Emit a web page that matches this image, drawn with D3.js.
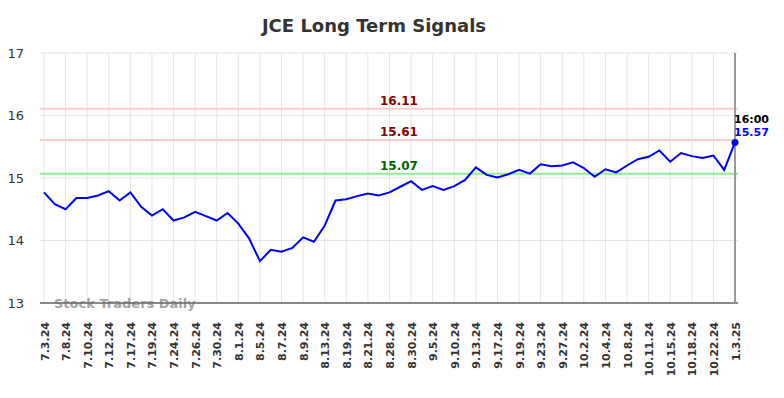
<!DOCTYPE html>
<html><head><meta charset="utf-8">
<script src="https://cdn.jsdelivr.net/npm/d3@7"></script>
<style>
html,body{margin:0;padding:0;background:#fff;}
svg{display:block;font-family:"DejaVu Sans",sans-serif;}
</style></head>
<body><svg id="c" width="784" height="398"></svg>
<script>
const title = "JCE Long Term Signals";
const tickLabels = ["7.3.24","7.8.24","7.10.24","7.12.24","7.17.24","7.19.24","7.24.24","7.26.24","7.30.24","8.1.24","8.5.24","8.7.24","8.9.24","8.13.24","8.19.24","8.21.24","8.28.24","8.30.24","9.5.24","9.10.24","9.13.24","9.17.24","9.19.24","9.23.24","9.27.24","10.2.24","10.4.24","10.8.24","10.11.24","10.15.24","10.18.24","10.22.24","1.3.25"];
const prices = [14.77,14.58,14.50,14.68,14.68,14.72,14.79,14.64,14.77,14.54,14.40,14.50,14.32,14.37,14.46,14.39,14.32,14.44,14.27,14.03,13.67,13.85,13.82,13.88,14.05,13.98,14.24,14.64,14.66,14.71,14.75,14.72,14.77,14.86,14.95,14.81,14.87,14.81,14.87,14.97,15.17,15.05,15.01,15.06,15.13,15.07,15.22,15.19,15.20,15.25,15.16,15.02,15.14,15.09,15.20,15.30,15.34,15.44,15.26,15.40,15.35,15.32,15.36,15.13,15.57];
const signalValues = [16.11, 15.61, 15.07];
const signalKinds = ["resistance","resistance","support"];
const yTicks = [13,14,15,16,17];
const lastTime = "16:00";

const svg = d3.select("#c");
const L = 40, R = 738, T = 53, B = 303;
const x = d3.scaleLinear().domain([0, prices.length - 1]).range([44, 735]);
const y = d3.scaleLinear().domain([13, 17]).range([B, T]);
const tickIdx = tickLabels.map((d, i) => i * 2);

// grid
const g = svg.append("g");
g.selectAll(".hg").data(yTicks).join("line")
  .attr("x1", L).attr("x2", R).attr("y1", d => y(d)).attr("y2", d => y(d))
  .attr("stroke", "#e6e6e6").attr("stroke-width", 1);
g.selectAll(".vg").data(tickIdx).join("line")
  .attr("x1", d => x(d)).attr("x2", d => x(d)).attr("y1", T).attr("y2", B)
  .attr("stroke", "#e6e6e6").attr("stroke-width", 1);

// title
svg.append("text").attr("x", 374).attr("y", 32).attr("text-anchor", "middle")
  .attr("font-size", 18).attr("font-weight", "bold").attr("fill", "#333").text(title);

// y axis labels
const yAxis = d3.axisLeft(y).tickValues(yTicks).tickSize(0).tickPadding(0).tickFormat(d3.format("d"));
const ya = svg.append("g").attr("transform", `translate(24,0)`).call(yAxis);
ya.select(".domain").remove();
ya.selectAll("text").attr("font-size", 13).attr("fill", "#333").attr("font-family", "DejaVu Sans, sans-serif");

// watermark
svg.append("text").attr("x", 54).attr("y", 308).attr("font-size", 13).attr("font-weight", "bold")
  .attr("fill", "#999").attr("fill-opacity", 0.9).text("Stock Traders Daily");

// x axis
const xAxis = d3.axisBottom(x).tickValues(tickIdx).tickSize(0).tickPadding(0)
  .tickFormat((d, i) => tickLabels[i]);
const xa = svg.append("g").attr("transform", `translate(0,${B})`).call(xAxis);
xa.select(".domain").attr("stroke", "#666").attr("stroke-width", 1.5).attr("d", `M${L},0H${R}`);
xa.selectAll("text").attr("font-size", 11).attr("font-weight", "bold").attr("fill", "#333")
  .attr("font-family", "DejaVu Sans, sans-serif")
  .attr("text-anchor", "end").attr("dy", null).attr("y", 0)
  .attr("transform", "translate(4,19) rotate(-90)");

// signal lines
const sigColor = k => k === "support" ? "#90ee90" : "#ffcccc";
const sigText = k => k === "support" ? "#006400" : "#8b0000";
svg.selectAll(".sig").data(signalValues).join("line")
  .attr("x1", L).attr("x2", R).attr("y1", d => y(d)).attr("y2", d => y(d))
  .attr("stroke", (d, i) => sigColor(signalKinds[i])).attr("stroke-width", 2);
svg.selectAll(".sigt").data(signalValues).join("text")
  .attr("x", 399).attr("y", d => y(d) - 4).attr("text-anchor", "middle")
  .attr("font-size", 12).attr("font-weight", "bold")
  .attr("fill", (d, i) => sigText(signalKinds[i])).text(d => d.toFixed(2));

// vertical marker at last point
const lastI = prices.length - 1;
svg.append("line").attr("x1", x(lastI)).attr("x2", x(lastI)).attr("y1", T).attr("y2", B)
  .attr("stroke", "#999").attr("stroke-width", 2);

// price line
svg.append("path").datum(prices)
  .attr("d", d3.line().x((d, i) => x(i)).y(d => y(d)))
  .attr("fill", "none").attr("stroke", "#0000ff").attr("stroke-width", 2);
svg.append("circle").attr("cx", x(lastI)).attr("cy", y(prices[lastI])).attr("r", 3.5).attr("fill", "#0000ff");

// last labels
svg.append("text").attr("x", x(lastI) - 1).attr("y", 123).attr("font-size", 11).attr("font-weight", "bold")
  .attr("fill", "#000").text(lastTime);
svg.append("text").attr("x", x(lastI) - 1).attr("y", 136).attr("font-size", 11).attr("font-weight", "bold")
  .attr("fill", "#0000ff").text(prices[lastI].toFixed(2));
</script></body></html>
